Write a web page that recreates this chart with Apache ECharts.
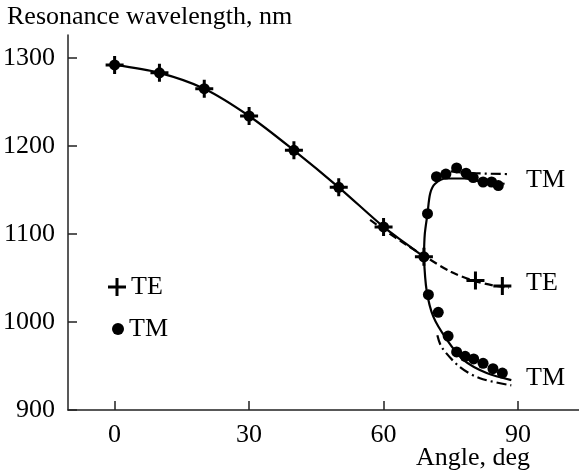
<!DOCTYPE html>
<html>
<head>
<meta charset="utf-8">
<script src="https://cdn.jsdelivr.net/npm/echarts@6/dist/echarts.min.js"></script>
<style>
  html, body { margin: 0; padding: 0; background: #fff; }
  #chart { width: 579px; height: 474px; }
</style>
</head>
<body>
<div id="chart"></div>
<script>
// measured points, [angle deg, wavelength nm]
const teMeasured = [
  [0, 1292], [10, 1283], [20, 1265], [30, 1234], [40, 1195], [50, 1153],
  [60, 1108], [69, 1074], [80.5, 1047], [86.5, 1041]
];
const tmMeasured = [
  [0, 1292], [10, 1283], [20, 1265], [30, 1234], [40, 1195], [50, 1153],
  [60, 1108], [69, 1074],
  [69.8, 1123], [71.8, 1165], [73.9, 1168], [76.3, 1175], [78.4, 1169],
  [80, 1164], [82.2, 1159], [84.1, 1159], [85.6, 1155],
  [70, 1031], [72.2, 1011], [74.4, 984], [76.3, 966], [78.2, 961],
  [80.1, 958], [82.2, 953], [84.4, 947], [86.5, 942]
];

// calculated curves
const mainCurve = [
  [0, 1292], [10, 1283], [20, 1265], [30, 1234], [40, 1195], [50, 1153],
  [60, 1108], [65, 1089], [69, 1074]
];
const upperCurve = [
  [69, 1074], [69.2, 1100], [69.8, 1123], [70.4, 1146], [71.5, 1157],
  [74, 1163], [78, 1163], [82, 1159], [87, 1157]
];
const lowerCurve = [
  [69, 1074], [69.6, 1036], [71.1, 1006], [74.1, 980], [77.8, 957],
  [83, 942], [88.5, 934]
];
const teDashed = [
  [57, 1116], [60, 1105], [65, 1088], [70, 1072], [75, 1057],
  [80, 1047], [85, 1041], [88, 1039]
];
const tmDashDotLower = [
  [72, 985], [73, 971], [77, 949], [81.5, 936], [88.5, 928]
];
const tmDashDotUpper = [
  [75, 1171], [80, 1169], [88, 1168]
];

const xTicks = [0, 30, 60, 90];

const font = "Liberation Serif";
const plusPath = "path://M7.5,0H10.5V7.5H18V10.5H10.5V18H7.5V10.5H0V7.5H7.5Z";

const chart = echarts.init(document.getElementById("chart"), null, { renderer: "canvas" });

function curve(data, type) {
  return {
    type: "line",
    data: data,
    smooth: 0.3,
    showSymbol: false,
    silent: true,
    z: 2,
    lineStyle: { color: "#000", width: 2.2, type: type }
  };
}

const option = {
  animation: false,
  backgroundColor: "#fff",
  grid: { left: 68, right: 0, top: 35, bottom: 64 },
  xAxis: {
    type: "value",
    min: -10.4,
    max: 103.6,
    axisLine: { onZero: false, lineStyle: { color: "#222", width: 1.5 } },
    axisTick: { inside: true, length: 9, customValues: xTicks, lineStyle: { color: "#222", width: 1.5 } },
    axisLabel: { customValues: xTicks, margin: 12, color: "#000", fontFamily: font, fontSize: 26 },
    splitLine: { show: false }
  },
  yAxis: {
    type: "value",
    min: 900,
    max: 1326,
    interval: 100,
    axisLine: { show: true, onZero: false, lineStyle: { color: "#222", width: 1.5 } },
    axisTick: { show: true, inside: true, length: 9, lineStyle: { color: "#222", width: 1.5 } },
    axisLabel: {
      margin: 13, color: "#000", fontFamily: font, fontSize: 26,
      formatter: function (value) {
        return String(value);
      }
    },
    splitLine: { show: false }
  },
  legend: [
    {
      data: [{ name: "TE", icon: plusPath }],
      left: 103, top: 269, itemWidth: 18, itemHeight: 18,
      selectedMode: false,
      textStyle: { color: "#000", fontFamily: font, fontSize: 26 }
    },
    {
      data: [{ name: "TM", icon: "circle" }],
      left: 107, top: 311, itemWidth: 12, itemHeight: 12,
      selectedMode: false,
      textStyle: { color: "#000", fontFamily: font, fontSize: 26 }
    }
  ],
  graphic: [
    { type: "text", left: 7, top: 4, style: { text: "Resonance wavelength, nm", font: "26px 'Liberation Serif'", fill: "#000" } },
    { type: "text", left: 416, top: 445, style: { text: "Angle, deg", font: "26px 'Liberation Serif'", fill: "#000" } },
    { type: "text", left: 526, top: 167, style: { text: "TM", font: "26px 'Liberation Serif'", fill: "#000" } },
    { type: "text", left: 526, top: 270, style: { text: "TE", font: "26px 'Liberation Serif'", fill: "#000" } },
    { type: "text", left: 526, top: 365, style: { text: "TM", font: "26px 'Liberation Serif'", fill: "#000" } }
  ],
  series: [
    curve(mainCurve, "solid"),
    curve(upperCurve, "solid"),
    curve(lowerCurve, "solid"),
    curve(teDashed, [8, 4]),
    curve(tmDashDotLower, [10, 4, 2, 4]),
    curve(tmDashDotUpper, [10, 4, 2, 4]),
    {
      name: "TM",
      type: "scatter",
      data: tmMeasured,
      symbol: "circle",
      symbolSize: 11,
      z: 3,
      itemStyle: { color: "#000", opacity: 1 },
      emphasis: { disabled: true }
    },
    {
      name: "TE",
      type: "scatter",
      data: teMeasured,
      symbol: plusPath,
      symbolSize: 18,
      z: 4,
      itemStyle: { color: "#000", opacity: 1 },
      emphasis: { disabled: true }
    }
  ]
};

chart.setOption(option);
</script>
</body>
</html>
